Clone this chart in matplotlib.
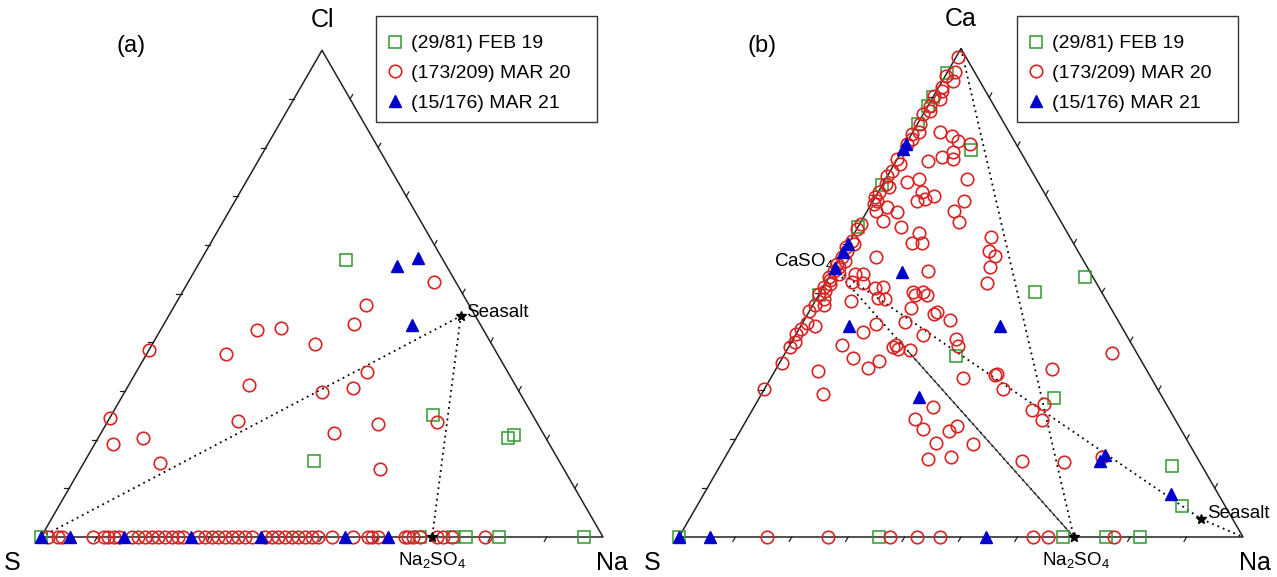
import numpy as np
import matplotlib
matplotlib.use('Agg')
import matplotlib.pyplot as plt
from matplotlib.patches import Rectangle

plt.rcParams['font.family'] = ['Liberation Sans', 'DejaVu Sans']
plt.rcParams['mathtext.fontset'] = 'custom'
plt.rcParams['mathtext.rm'] = 'Liberation Sans'
plt.rcParams['mathtext.it'] = 'Liberation Sans:italic'
plt.rcParams['mathtext.bf'] = 'Liberation Sans:bold'

# ---- data: ternary percentages (right vertex = Na, top vertex = Cl or Ca, rest = S)
labels = ['(29/81) FEB 19', '(173/209) MAR 20', '(15/176) MAR 21']

# panel (a): S - Na - Cl
feb_a_na = [25.9, 57.2, 72.9, 73.8, 40.8]
feb_a_cl = [56.9, 25.1, 20.3, 20.9, 15.6]
feb_a_base = [0, 67.4, 73.3, 75.6, 81.5, 96.6]          # points with no Cl

mar20_a_na = [0, 0, 3.2, 8.0, 13.6, 14.1, 17.2, 21.2, 21.4, 23.2, 29.0, 35.1, 33.8,
              34.0, 41.1, 40.2, 41.4, 48.4, 53.3, 43.7, 58.7]
mar20_a_cl = [38.4, 24.4, 19.1, 20.3, 15.2, 37.6, 42.5, 42.9, 31.2, 23.8, 39.6, 29.8, 43.7,
              47.6, 33.9, 30.6, 21.4, 23.2, 14.0, 52.4, 23.6]
mar20_a_base = [1.2, 3.0, 3.7, 9.3, 11.2, 11.9, 13.0, 13.9, 16.2, 17.3, 18.5, 19.8, 20.8,
                22.1, 23.3, 24.4, 25.3, 27.9, 29.2, 30.4, 31.5, 32.7, 34.0, 35.1, 36.3,
                37.5, 39.9, 41.1, 42.2, 43.4, 44.7, 45.7, 47.0, 48.2, 49.3, 51.8, 55.5,
                58.2, 58.9, 60.0, 64.8, 65.3, 66.2, 67.4, 70.5, 71.5, 73.1, 79.0]

mar21_a_na = [35.5, 38.5, 44.2]
mar21_a_cl = [55.6, 57.3, 43.5]
mar21_a_base = [0, 5.2, 14.8, 26.7, 39.1, 54.1, 61.7]

seasalt_a = (52.0, 45.4)
na2so4_a = 69.6

# panel (b): S - Na - Ca
feb_b_na = [0, 0, 0, 0, 0, 0, 0, 12.2, 45.4, 38.0, 30.6, 52.2, 80.1, 86.0]
feb_b_ca = [94.9, 90.1, 88.3, 84.6, 72.1, 63.4, 49.5, 79.3, 53.2, 50.1, 37.0, 28.5, 14.6, 6.4]
feb_b_base = [0, 35.5, 68.1, 75.7, 81.7]

mar20_b_edge_na = [0.3, 1.2, 0.2, 1.8, 0.5, 1.0, 0.0, 1.5, 0.3, 0.8, 0.0, 0.4, 1.0, 0.0,
                   0.6, 0.2, 0.0, 0.9, 0.3, 0.0, 0.5, 1.3, 0.2, 0.0, 0.7, 0.4, 1.6, 0.2,
                   0.0, 0.3, 1.0, 0.0, 0.6, 0.2, 1.2, 0.0, 0.8, 0.3, 1.5, 0.0, 0.5, 1.0,
                   0.2, 0.7, 0.0, 1.3, 0.4, 0.0, 0.8, 0.3, 0.0, 0.6, 0.2, 0.4, 0.0]
mar20_b_edge_ca = [98.2, 95.3, 94.3, 93.4, 92.2, 91.4, 90.3, 89.7, 88.3, 87.3, 86.7, 84.6,
                   83.0, 82.5, 81.5, 80.5, 77.4, 76.4, 74.9, 73.9, 72.3, 71.7, 70.6, 69.6,
                   68.8, 68.2, 66.7, 64.1, 63.0, 60.6, 60.0, 59.3, 58.5, 57.3, 56.5, 55.9,
                   55.2, 54.4, 53.8, 53.2, 52.6, 51.7, 51.1, 50.3, 49.7, 48.7, 47.6, 46.2,
                   43.9, 42.5, 41.5, 40.0, 39.0, 35.7, 30.2]
mar20_b_na = [4.8, 7.3, 8.9, 11.4, 5.6, 7.7, 9.2, 9.9, 14.5, 4.1,
              5.9, 7.8, 7.8, 9.0, 10.3, 16.1, 3.1, 5.4, 3.9, 7.7,
              15.4, 17.4, 11.5, 11.2, 13.0, 24.6, 25.8, 27.3, 27.5, 6.2,
              16.9, 28.6, 4.3, 5.7, 4.6, 6.6, 10.6, 16.4, 18.2, 9.3,
              10.9, 12.2, 6.4, 17.1, 19.3, 17.7, 1.9, 2.5, 7.7, 10.9,
              9.2, 11.7, 13.0, 12.6, 16.1, 17.4, 18.8, 18.5, 19.6, 21.9,
              18.1, 22.7, 22.4, 22.7, 25.8, 28.9, 29.9, 34.1, 39.5, 39.7,
              42.3, 48.9, 58.0, 49.6, 51.0, 52.4, 31.7, 29.7, 32.2, 37.0,
              37.9, 36.0, 42.5, 36.1, 40.0, 53.0, 60.6, 66.8]
mar20_b_ca = [83.0, 82.1, 81.1, 80.5, 77.0, 77.8, 78.9, 77.4, 73.3, 72.7,
              73.3, 70.6, 68.8, 69.2, 69.8, 68.8, 67.6, 66.5, 64.7, 63.4,
              66.7, 64.5, 62.2, 60.2, 60.2, 61.4, 58.5, 57.5, 55.2, 57.3,
              54.4, 52.0, 53.8, 53.8, 52.2, 52.0, 51.1, 50.1, 50.1, 50.9,
              48.9, 48.7, 48.3, 49.5, 49.5, 46.8, 47.6, 43.1, 33.9, 29.2,
              39.4, 41.9, 43.7, 36.6, 34.7, 36.1, 39.4, 38.8, 38.4, 38.2,
              44.1, 41.3, 45.6, 46.0, 44.4, 40.5, 39.2, 32.6, 33.1, 33.3,
              30.2, 34.3, 37.6, 26.1, 27.3, 24.0, 26.7, 24.2, 22.2, 21.8,
              22.8, 19.3, 19.1, 16.0, 16.4, 15.6, 15.4, 16.4]
mar20_b_base = [15.6, 26.4, 37.4, 42.2, 46.3, 62.8, 65.4, 77.1]

mar21_b_na = [0, 0, 0, 0, 0.2, 12.4, 8.6, 35.4, 28.2, 66.8, 67.1, 82.8]
mar21_b_ca = [80.5, 79.5, 60.0, 58.3, 55.0, 54.2, 43.1, 43.1, 28.7, 15.6, 16.8, 8.8]
mar21_b_base = [0, 5.5, 54.4]

seasalt_b = (90.7, 3.7)
na2so4_b = 70.0
caso4_b = 55.0        # Ca share of CaSO4 on the S-Ca edge

H = np.sqrt(3) / 2
green, red, blue = '#2f9a2f', '#d92424', '#0000cc'
dots = (0, (1, 2.2))


def tern(na, top):
    na = np.asarray(na, float) / 100
    top = np.asarray(top, float) / 100
    return na + top / 2, top * H


def frame(ax):
    ax.plot([0, 1, 0.5, 0], [0, 0, H, 0], color='#222222', lw=1.1, zorder=2)
    tl = 0.009
    for f in np.arange(0.1, 1.0, 0.1):
        ax.plot([f, f - tl * 0.5], [0, -tl * H], color='#222222', lw=0.9)
        ax.plot([f / 2, f / 2 - tl], [f * H, f * H], color='#222222', lw=0.9)
        ax.plot([1 - f / 2, 1 - f / 2 + tl * 0.5], [f * H, f * H + tl * H], color='#222222', lw=0.9)
    ax.set_aspect('auto')
    ax.axis('off')


def series(ax, na, top, base, style):
    x, y = tern(na, top)
    bx, by = tern(base, np.zeros(len(base)))
    return ax.plot(np.r_[x, bx], np.r_[y, by], ls='none', **style)[0]


sq = dict(marker='s', ms=8.5, mfc='none', mec=green, mew=1.1, zorder=4)
ci = dict(marker='o', ms=9, mfc='none', mec=red, mew=1.2, zorder=5)
tr = dict(marker='^', ms=9, color=blue, mec=blue, zorder=6)

fig = plt.figure(figsize=(12.77, 5.77), dpi=100)

# ---------------- panel (a)
L = 562
axa = fig.add_axes([0, 0, 638 / 1277, 1])
axa.set_xlim(-41 / L, 597 / L)
axa.set_ylim(-40 / L, 537 / L)
frame(axa)

sx, sy = tern(*seasalt_a)
nx, ny = tern(na2so4_a, 0)
axa.plot([0, sx, nx], [0, sy, ny], ls=dots, color='black', lw=1.3, zorder=3)

h1 = series(axa, feb_a_na, feb_a_cl, feb_a_base, sq)
h2 = series(axa, mar20_a_na, mar20_a_cl, mar20_a_base, ci)
h3 = series(axa, mar21_a_na, mar21_a_cl, mar21_a_base, tr)
axa.plot([sx, nx], [sy, ny], ls='none', marker='*', color='black', ms=7, zorder=7)

axa.text(sx + 5 / L, sy + 4 / L, 'Seasalt', fontsize=13.5, ha='left', va='center')
axa.text(nx, ny - 23 / L, 'Na$_2$SO$_4$', fontsize=13.5, ha='center', va='center')
axa.text(0.5, H + 30 / L, 'Cl', fontsize=18, ha='center', va='center')
axa.text(-29 / L, -26 / L, 'S', fontsize=18, ha='center', va='center')
axa.text(1 + 9 / L, -26 / L, 'Na', fontsize=18, ha='center', va='center')
axa.text(90 / L, 491 / L, '(a)', fontsize=17, ha='center', va='center')

# ---------------- panel (b)
M = 564
axb = fig.add_axes([640 / 1277, 0, 637 / 1277, 1])
axb.set_xlim(-39 / M, 598 / M)
axb.set_ylim(-40 / M, 537 / M)
frame(axb)

cx, cy = tern(0, caso4_b)
sx, sy = tern(*seasalt_b)
nx, ny = tern(na2so4_b, 0)
axb.plot([cx, sx, 1], [cy, sy, 0], ls=dots, color='black', lw=1.3, zorder=3)
axb.plot([cx, nx], [cy, ny], ls=dots, color='black', lw=1.3, zorder=3)
axb.plot([0.5, nx], [H, ny], ls=dots, color='black', lw=1.3, zorder=3)
mx, my = cx + 0.31 * (nx - cx), cy + 0.31 * (ny - cy)
axb.plot([mx, nx], [my, ny], color='#333333', lw=0.8, zorder=3)

series(axb, feb_b_na, feb_b_ca, feb_b_base, sq)
series(axb, np.r_[mar20_b_edge_na, mar20_b_na], np.r_[mar20_b_edge_ca, mar20_b_ca], mar20_b_base, ci)
series(axb, mar21_b_na, mar21_b_ca, mar21_b_base, tr)
axb.plot([sx, nx], [sy, ny], ls='none', marker='*', color='black', ms=7, zorder=7)

axb.text(sx + 6 / M, sy + 5 / M, 'Seasalt', fontsize=13.5, ha='left', va='center')
axb.text(nx + 2 / M, ny - 23 / M, 'Na$_2$SO$_4$', fontsize=13.5, ha='center', va='center')
axb.text(cx, cy + 7 / M, 'CaSO$_4$', fontsize=13.5, ha='right', va='center')
axb.text(0.5, H + 30 / M, 'Ca', fontsize=18, ha='center', va='center')
axb.text(-27 / M, -26 / M, 'S', fontsize=18, ha='center', va='center')
axb.text(1 + 12 / M, -26 / M, 'Na', fontsize=18, ha='center', va='center')
axb.text(83 / M, 491 / M, '(b)', fontsize=17, ha='center', va='center')

# ---------------- legends
for left in (376, 1017):
    fig.patches.append(Rectangle((left / 1277, 1 - 122 / 577), 221 / 1277, 106 / 577,
                                 transform=fig.transFigure, fill=False,
                                 edgecolor='#333333', lw=1.0))
    fig.legend([h1, h2, h3], labels, loc='upper left',
               bbox_to_anchor=(left / 1277, 1 - 25 / 577), frameon=False,
               fontsize=14, borderpad=0.5, handlelength=1.0, handletextpad=0.3,
               labelspacing=0.63, borderaxespad=0)

fig.savefig('out.png', dpi=100)
